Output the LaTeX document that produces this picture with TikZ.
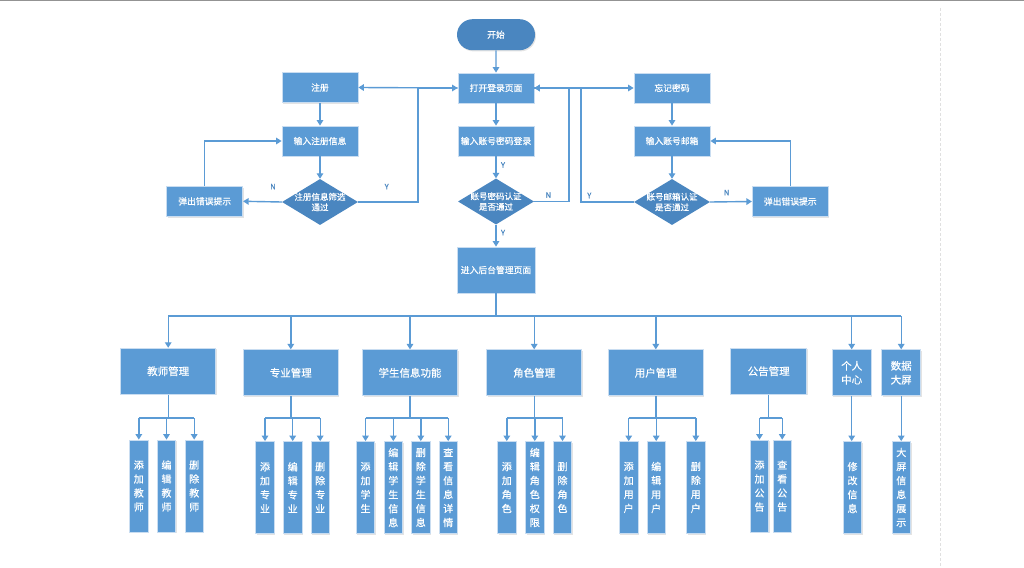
\documentclass[tikz,border=0pt]{standalone}
\usepackage{fontspec}
\setmainfont{Noto Sans CJK SC}
\newfontfamily\cjkb[FakeBold=0.6]{Noto Sans CJK SC}
\usetikzlibrary{shapes.geometric,shapes.misc,arrows.meta,shadows}
\definecolor{boxblue}{HTML}{5B9BD5}
\definecolor{darkblue}{HTML}{4A86C0}
\definecolor{linecol}{HTML}{5B9BD5}
\definecolor{edgecol}{HTML}{C9DDF1}
\definecolor{lblcol}{HTML}{4A86C0}
\begin{document}
\begin{tikzpicture}[x=1pt,y=-1pt,
  line/.style={draw=linecol, line width=1.4pt},
  arr/.style={line, -{Triangle[width=6.5pt,length=5.5pt]}},
  shad/.style={drop shadow={shadow xshift=1pt, shadow yshift=-1.2pt, opacity=0.22}},
  box/.style={rectangle, fill=boxblue, draw=edgecol, line width=0.8pt, text=white,
    align=center, inner sep=0pt, shad},
  tbox/.style={box, minimum width=76pt, minimum height=30pt, font=\cjkb\fontsize{8.8}{10}\selectfont},
  mbox/.style={box, minimum width=95pt, minimum height=46pt, font=\cjkb\fontsize{10.5}{14}\selectfont},
  nbox/.style={box, minimum width=39pt, minimum height=46pt, font=\cjkb\fontsize{10.5}{14}\selectfont},
  vbox/.style={box, minimum width=18.5pt, minimum height=92pt, font=\cjkb\fontsize{10}{14}\selectfont},
  dia/.style={diamond, fill=darkblue, draw=none, minimum width=76pt, minimum height=46pt, inner sep=0pt},
  dtext/.style={text=white, align=center, font=\cjkb\fontsize{8.5}{10.5}\selectfont, inner sep=0pt},
  lbl/.style={text=lblcol, font=\cjkb\fontsize{7.5}{8}\selectfont, inner sep=0pt},
]
\useasboundingbox (0,0) rectangle (1024,567);
\fill[white] (0,0) rectangle (1024,567);
\draw[gray!85, line width=1.5pt] (0,0.75) -- (1024,0.75);
\draw[black!12, line width=0.6pt, dash pattern=on 3pt off 2pt] (940,8) -- (940,567);

% ---------- top flow ----------
\node[rounded rectangle, fill=darkblue, minimum width=78pt, minimum height=31pt, inner sep=0pt,
  text=white, font=\cjkb\fontsize{8.8}{10}\selectfont, shad] (start) at (496,34.7) {开始};
\node[tbox] (open)   at (496,88)  {打开登录页面};
\node[tbox] (login)  at (496,141) {输入账号密码登录};
\node[dia]  (d2)     at (496,201.5) {};
\node[dtext] at (d2) {账号密码认证\\是否通过};
\node[box, minimum width=78pt, minimum height=46pt, font=\cjkb\fontsize{8.8}{10}\selectfont] (admin) at (496,270) {进入后台管理页面};

\node[tbox] (reg)     at (320,87.5) {注册};
\node[tbox] (reginfo) at (320,141)  {输入注册信息};
\node[dia]  (d1)      at (320,202)  {};
\node[dtext] at (d1) {注册信息筛选\\通过};
\node[tbox] (err1)    at (204.7,201.3) {弹出错误提示};

\node[tbox] (forget)  at (672,88)  {忘记密码};
\node[tbox] (emailin) at (672,141) {输入账号邮箱};
\node[dia]  (d3)      at (672,202) {};
\node[dtext] at (d3) {账号邮箱认证\\是否通过};
\node[tbox] (err2)    at (790.3,201.5) {弹出错误提示};

\coordinate (jY1) at (418,88);
\coordinate (jN2) at (569,88);
\coordinate (jY3) at (581,88);

\draw[arr] (start) -- (open);
\draw[arr] (open) -- (login);
\draw[arr] (login) -- (d2);
\draw[arr] (d2) -- (admin);
\draw[arr] (open.west) -- (reg.east);
\draw[arr] (reg) -- (reginfo);
\draw[arr] (reginfo) -- (d1);
\draw[arr] (d1.west) -- (err1.east);
\draw[arr] (err1.north) |- (reginfo.west);
\draw[arr] (d1.east) -| (jY1) -- (open.west);
\draw[arr] (d2.east) -| (jN2) -- (open.east);
\draw[arr] (d3.west) -| (jY3) -- (open.east);
\draw[arr] (open.east) -- (forget.west);
\draw[arr] (forget) -- (emailin);
\draw[arr] (emailin) -- (d3);
\draw[arr] (d3.east) -- (err2.west);
\draw[arr] (err2.north) |- (emailin.east);

\node[lbl] (n1) at (273,186.7) {N};
\node[lbl] (y1) at (386.7,186.7) {Y};
\node[lbl] (y2a) at (503,165) {Y};
\node[lbl] (y2b) at (503,232.7) {Y};
\node[lbl] (n2) at (548.3,195) {N};
\node[lbl] (y3) at (589.3,195.5) {Y};
\node[lbl] (n3) at (726.7,192.7) {N};

% ---------- modules ----------
\node[mbox] (teach) at (168.2,371.2) {教师管理};
\node[mbox] (major) at (290.8,372.8) {专业管理};
\node[mbox] (stu)   at (410,372.8)   {学生信息功能};
\node[mbox] (role)  at (534.2,372.8) {角色管理};
\node[mbox] (user)  at (655.8,372.8) {用户管理};
\node[box, minimum width=76pt, minimum height=46pt, font=\cjkb\fontsize{10.5}{14}\selectfont] (notice) at (768.7,371.2) {公告管理};
\node[nbox] (me)    at (851.7,372.8) {个人\\中心};
\node[nbox] (screen) at (901.2,372.8) {数据\\大屏};

\coordinate (busL) at (168.2,316);
\coordinate (busR) at (901.2,316);
\draw[line] (busL) -- (busR);
\draw[line] (admin.south) -- (admin.south |- busL);
\foreach \m in {teach,major,stu,role,user,me,screen}
  \draw[arr] (\m.north |- busL) -- (\m.north);

% ---------- sub boxes ----------
\node[vbox] (t1) at (138.8,486) {添\\加\\教\\师};
\node[vbox] (t2) at (166.5,486) {编\\辑\\教\\师};
\node[vbox] (t3) at (194.2,486) {删\\除\\教\\师};

\node[vbox] (m1) at (265,487.5)   {添\\加\\专\\业};
\node[vbox] (m2) at (292.7,487.5) {编\\辑\\专\\业};
\node[vbox] (m3) at (320.2,487.5) {删\\除\\专\\业};

\node[vbox] (s1) at (365.5,487.5) {添\\加\\学\\生};
\node[vbox] (s2) at (393.3,487.5) {编\\辑\\学\\生\\信\\息};
\node[vbox] (s3) at (420.8,487.5) {删\\除\\学\\生\\信\\息};
\node[vbox] (s4) at (448.2,487.5) {查\\看\\信\\息\\详\\情};

\node[vbox] (r1) at (506.8,487.5) {添\\加\\角\\色};
\node[vbox] (r2) at (534.8,487.5) {编\\辑\\角\\色\\权\\限};
\node[vbox] (r3) at (562.5,487.5) {删\\除\\角\\色};

\node[vbox] (u1) at (628.7,487.5) {添\\加\\用\\户};
\node[vbox] (u2) at (656.2,487.5) {编\\辑\\用\\户};
\node[vbox] (u3) at (695.8,487.5) {删\\除\\用\\户};

\node[vbox] (a1) at (759.5,486) {添\\加\\公\\告};
\node[vbox] (a2) at (782.2,486) {查\\看\\公\\告};

\node[vbox] (p1) at (852.5,487.5) {修\\改\\信\\息};
\node[vbox] (b1) at (901.3,487.5) {大\\屏\\信\\息\\展\\示};

\coordinate (br) at (0,418);
% teachers
\draw[line] (teach.south) -- (teach.south |- br);
\draw[line] (t1.north |- br) -- (t3.north |- br);
\foreach \c in {t1,t2,t3} \draw[arr] (\c.north |- br) -- (\c.north);
% majors
\draw[line] (major.south) -- (major.south |- br);
\draw[line] (m1.north |- br) -- (m3.north |- br);
\foreach \c in {m1,m2,m3} \draw[arr] (\c.north |- br) -- (\c.north);
% students
\draw[line] (stu.south) -- (stu.south |- br);
\draw[line] (s1.north |- br) -- (s4.north |- br);
\foreach \c in {s1,s2,s3,s4} \draw[arr] (\c.north |- br) -- (\c.north);
% roles
\draw[line] (role.south) -- (role.south |- br);
\draw[line] (r1.north |- br) -- (r3.north |- br);
\foreach \c in {r1,r2,r3} \draw[arr] (\c.north |- br) -- (\c.north);
% users
\draw[line] (user.south) -- (user.south |- br);
\draw[line] (u1.north |- br) -- (u3.north |- br);
\foreach \c in {u1,u2,u3} \draw[arr] (\c.north |- br) -- (\c.north);
% notices
\draw[line] (notice.south) -- (notice.south |- br);
\draw[line] (a1.north |- br) -- (a2.north |- br);
\foreach \c in {a1,a2} \draw[arr] (\c.north |- br) -- (\c.north);
% personal / screen
\draw[arr] (me.south) -- (me.south |- p1.north);
\draw[arr] (screen.south) -- (screen.south |- b1.north);
\end{tikzpicture}
\end{document}
